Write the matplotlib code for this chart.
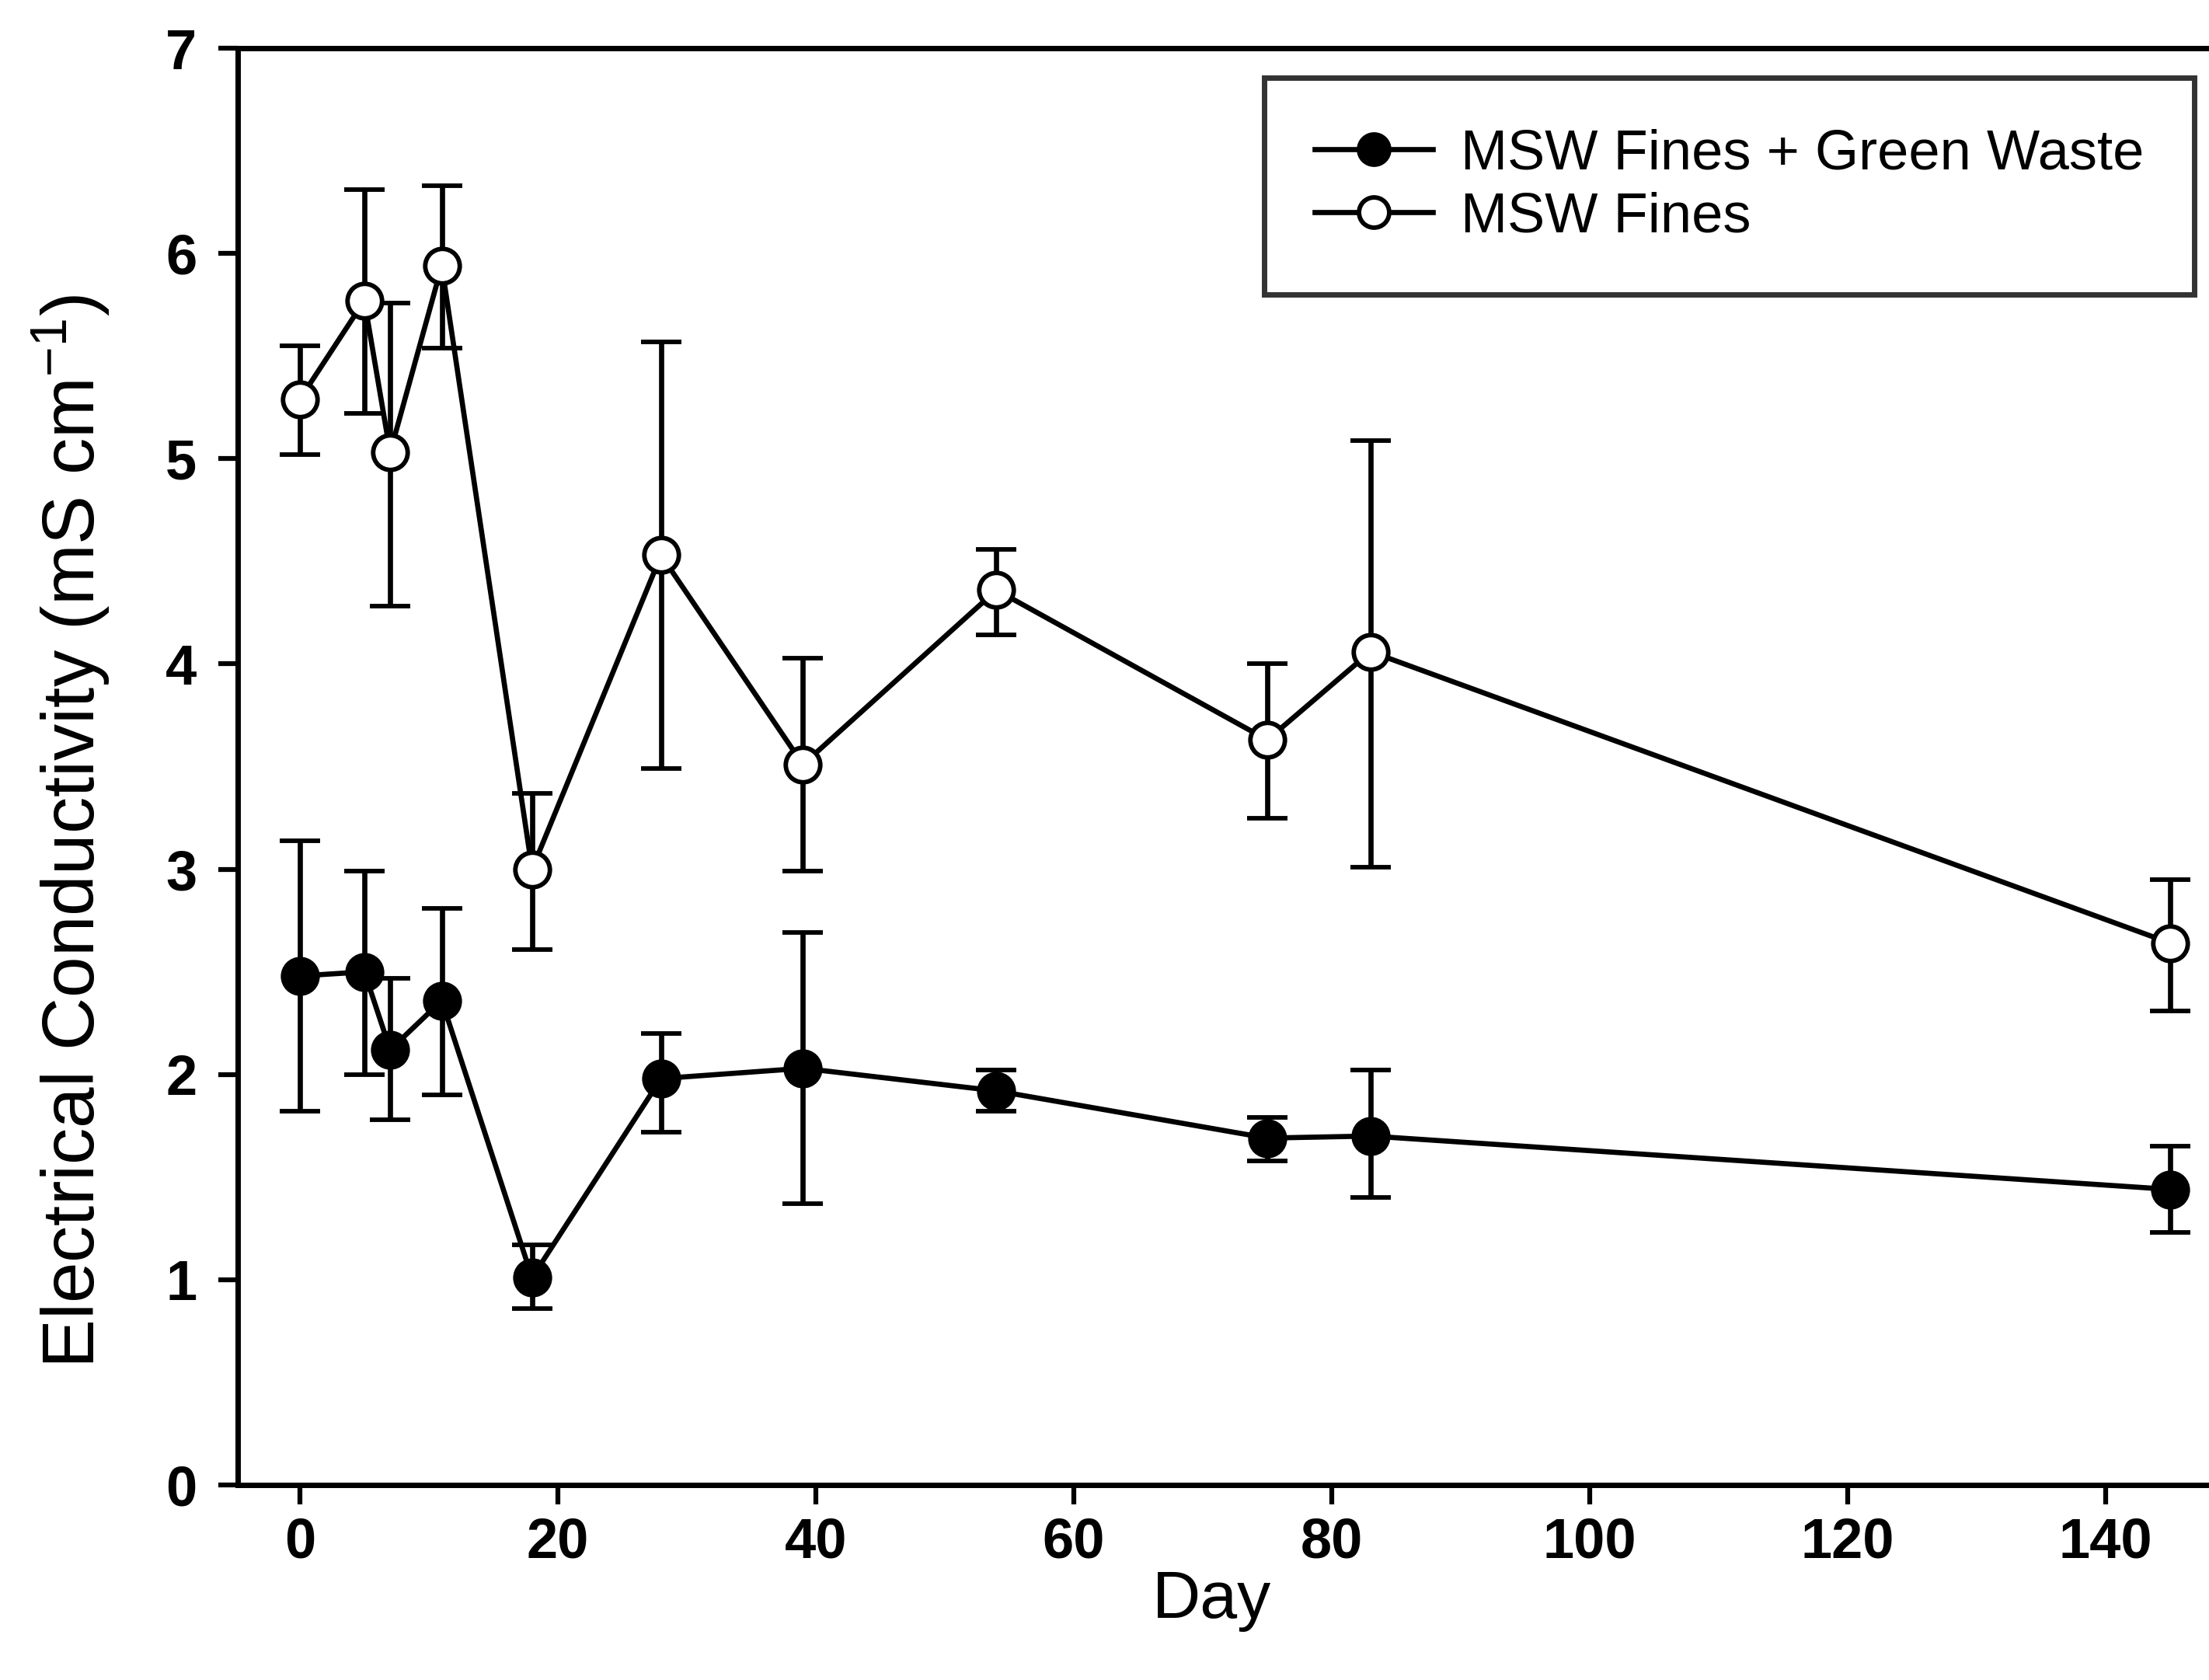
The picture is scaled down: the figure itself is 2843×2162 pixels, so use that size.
import matplotlib
matplotlib.use("Agg")
import matplotlib.pyplot as plt
from matplotlib.lines import Line2D
import numpy as np

# ==========================================
# Data
# ==========================================
days = [0, 5, 7, 11, 18, 28, 39, 54, 75, 83, 145]

gw_mean = [2.48, 2.50, 2.12, 2.36, 1.01, 1.98, 2.03, 1.92, 1.69, 1.70, 1.44]
gw_upper = [3.14, 2.99, 2.47, 2.81, 1.17, 2.20, 2.69, 2.02, 1.79, 2.02, 1.65]
gw_lower = [1.82, 2.00, 1.78, 1.90, 0.86, 1.72, 1.37, 1.82, 1.58, 1.40, 1.23]

fines_mean = [5.29, 5.77, 5.03, 5.94, 3.00, 4.53, 3.51, 4.36, 3.63, 4.06, 2.64]
fines_upper = [5.55, 6.31, 5.76, 6.33, 3.37, 5.57, 4.03, 4.56, 4.00, 5.09, 2.95]
fines_lower = [5.02, 5.22, 4.28, 5.54, 2.61, 3.49, 2.99, 4.14, 3.25, 3.01, 2.31]

x_ticks = [0, 20, 40, 60, 80, 100, 120, 140]
y_ticks = [0, 1, 2, 3, 4, 5, 6, 7]
# ==========================================

plt.rcParams['font.family'] = ['Liberation Sans', 'DejaVu Sans']
plt.rcParams['mathtext.default'] = 'regular'


def asym_err(mean, lower, upper):
    m = np.array(mean)
    return np.vstack([m - np.array(lower), np.array(upper) - m])


fig = plt.figure(figsize=(28.43, 21.62), dpi=100)
ax = fig.add_axes([0.1076, 0.1161, 0.8924, 0.8552])

common = dict(color='black', linewidth=4.8, elinewidth=4.8, capsize=19,
              capthick=5.5, markersize=32, markeredgewidth=4.2,
              markeredgecolor='black')

ax.errorbar(days, gw_mean, yerr=asym_err(gw_mean, gw_lower, gw_upper),
            fmt='o-', markerfacecolor='black', **common)
ax.errorbar(days, fines_mean, yerr=asym_err(fines_mean, fines_lower, fines_upper),
            fmt='o-', markerfacecolor='white', **common)

ax.set_xlim(-4.82, 148.0)
ax.set_ylim(0, 7)
ax.set_xticks(x_ticks)
ax.set_yticks(y_ticks)

for side in ['left', 'bottom', 'top']:
    ax.spines[side].set_linewidth(5)
ax.spines['right'].set_visible(False)

ax.tick_params(axis='both', direction='out', length=18, width=4.5,
               labelsize=52)
ax.tick_params(axis='y', pad=20)
ax.tick_params(axis='x', pad=11)
for lbl in ax.get_xticklabels() + ax.get_yticklabels():
    lbl.set_fontweight('bold')

ax.set_xlabel('Day', fontsize=62)
ax.set_ylabel('Electrical Conductivity (mS cm$^{-1}$)', fontsize=68)
ax.xaxis.set_label_coords(0.494, -0.059)
ax.yaxis.set_label_coords(-0.064, 0.455)

handles = [
    Line2D([], [], color='black', linewidth=4.8, marker='o', markersize=28,
           markerfacecolor='black', markeredgecolor='black', markeredgewidth=4.2),
    Line2D([], [], color='black', linewidth=4.8, marker='o', markersize=28,
           markerfacecolor='white', markeredgecolor='black', markeredgewidth=4.2),
]
leg = ax.legend(handles, ['MSW Fines + Green Waste', 'MSW Fines'],
                loc='upper left', bbox_to_anchor=(0.5723, 0.9537),
                bbox_transform=fig.transFigure, fontsize=52,
                frameon=True, fancybox=False, edgecolor='black',
                handlelength=2.1, handletextpad=0.5, labelspacing=0.2,
                borderpad=0.9, borderaxespad=0)
leg.get_frame().set_linewidth(5)

plt.savefig('out.png', dpi=100)
plt.close(fig)
